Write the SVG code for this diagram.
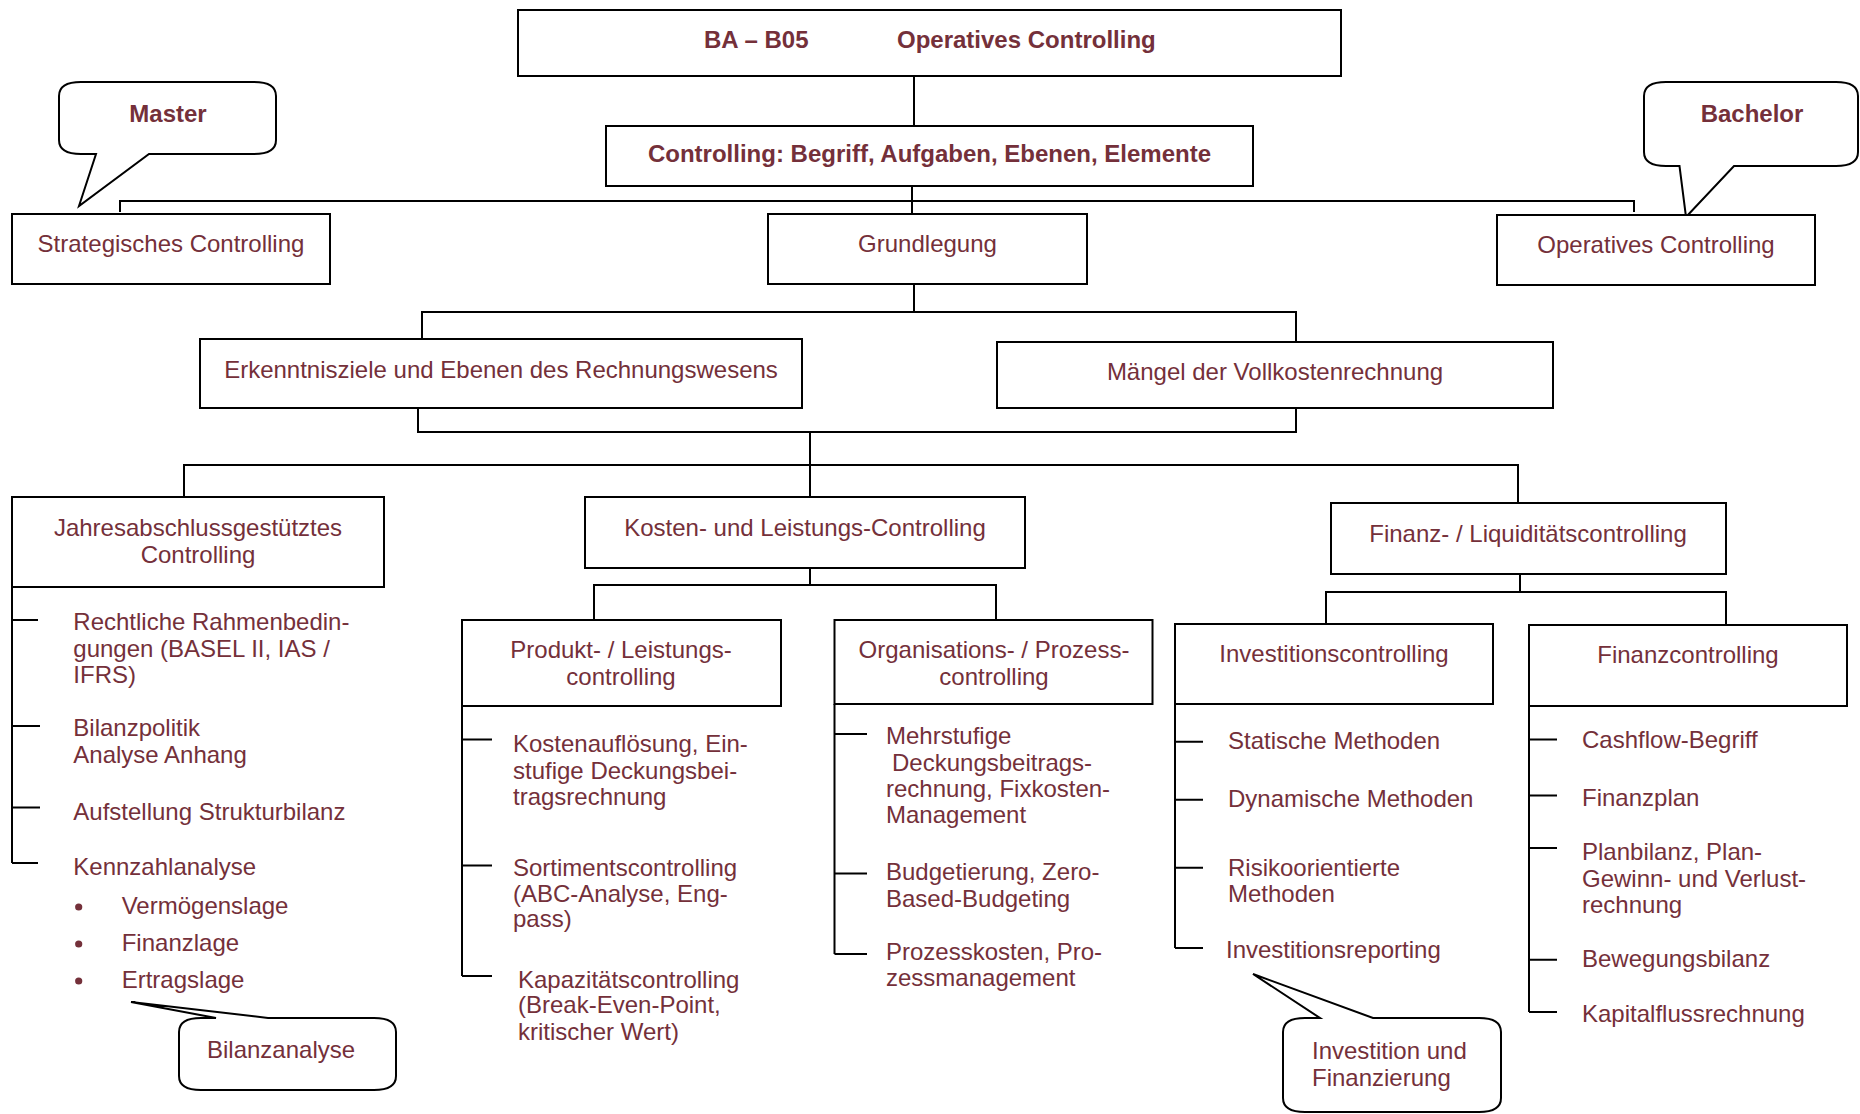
<svg xmlns="http://www.w3.org/2000/svg" width="1860" height="1114" viewBox="0 0 1860 1114">
<style>
.bg{fill:#fff}
.box{fill:#fff;stroke:#000;stroke-width:2}
.ln{fill:none;stroke:#000;stroke-width:2}
.co{fill:#fff;stroke:#000;stroke-width:2;stroke-linejoin:miter}
.t{font-family:"Liberation Sans",Arial,sans-serif;font-size:24px;fill:#74303A}
.b{font-weight:bold}
.c{text-anchor:middle}
.dot{fill:#74303A}
</style>
<rect class="bg" x="0" y="0" width="1860" height="1114"/>
<g id="connectors">
<path class="ln" d="M914,76 V126"/>
<path class="ln" d="M912,186 V214"/>
<path class="ln" d="M120,212 V201 H1634 V212"/>
<path class="ln" d="M914,284 V312"/>
<path class="ln" d="M422,339 V312 H1296 V342"/>
<path class="ln" d="M418,408 V432 H1296 V408"/>
<path class="ln" d="M810,432 V497"/>
<path class="ln" d="M184,497 V465 H1518 V503"/>
<path class="ln" d="M810,568 V585"/>
<path class="ln" d="M594,620 V585 H996 V620"/>
<path class="ln" d="M1520,574 V592"/>
<path class="ln" d="M1326,624 V592 H1726 V625"/>
<path class="ln" d="M12,587 V863 M12,620 H38 M12,726 H40 M12,807.5 H40 M12,863 H38"/>
<path class="ln" d="M462,706 V976 M462,739.4 H492 M462,865.4 H492 M462,976 H492"/>
<path class="ln" d="M834.5,704 V954 M834.5,734 H867 M834.5,873.6 H867 M834.5,954 H867"/>
<path class="ln" d="M1175,704 V948 M1175,741.8 H1203 M1175,799.7 H1203 M1175,867.8 H1203 M1175,948 H1203"/>
<path class="ln" d="M1529,706 V1012 M1529,739.4 H1557 M1529,795.6 H1557 M1529,848 H1557 M1529,959.8 H1557 M1529,1012 H1557"/>
</g>
<g id="title">
<rect class="box" x="518" y="10" width="823" height="66"/>
<text class="t b" y="48"><tspan x="704">BA – B05</tspan><tspan x="897">Operatives Controlling</tspan></text>
</g>
<g id="controlling">
<rect class="box" x="606" y="126" width="647" height="60"/>
<text class="t b c" x="929.5" y="162">Controlling: Begriff, Aufgaben, Ebenen, Elemente</text>
</g>
<g id="master">
<path class="co" d="M81,82 H254 Q276,82 276,96 V140 Q276,154 254,154 H149 L79,206 L96,154 H81 Q59,154 59,140 V96 Q59,82 81,82 Z"/>
<text class="t b c" x="168" y="122">Master</text>
</g>
<g id="bachelor">
<path class="co" d="M1666,82 H1836 Q1858,82 1858,96 V152 Q1858,166 1836,166 H1734 L1686,217 L1679.5,166 H1666 Q1644,166 1644,152 V96 Q1644,82 1666,82 Z"/>
<text class="t b c" x="1752" y="122">Bachelor</text>
</g>
<g id="strategisch">
<rect class="box" x="12" y="214" width="318" height="70"/>
<text class="t c" x="171" y="252">Strategisches Controlling</text>
</g>
<g id="grundlegung">
<rect class="box" x="768" y="214" width="319" height="70"/>
<text class="t c" x="927.5" y="252">Grundlegung</text>
</g>
<g id="operativ">
<rect class="box" x="1497" y="215" width="318" height="70"/>
<text class="t c" x="1656" y="253">Operatives Controlling</text>
</g>
<g id="erkenntnis">
<rect class="box" x="200" y="339" width="602" height="69"/>
<text class="t c" x="501" y="378">Erkenntnisziele und Ebenen des Rechnungswesens</text>
</g>
<g id="maengel">
<rect class="box" x="997" y="342" width="556" height="66"/>
<text class="t c" x="1275" y="380">Mängel der Vollkostenrechnung</text>
</g>
<g id="jahres">
<rect class="box" x="12" y="497" width="372" height="90"/>
<text class="t c" x="198" y="536">Jahresabschlussgestütztes</text>
<text class="t c" x="198" y="563">Controlling</text>
</g>
<g id="jahres-list">
<text class="t" x="73.3" y="630">Rechtliche Rahmenbedin-</text>
<text class="t" x="73.3" y="656.6">gungen (BASEL II, IAS /</text>
<text class="t" x="73.3" y="683.2">IFRS)</text>
<text class="t" x="73.3" y="736">Bilanzpolitik</text>
<text class="t" x="73.3" y="763">Analyse Anhang</text>
<text class="t" x="73.3" y="820">Aufstellung Strukturbilanz</text>
<text class="t" x="73.3" y="875">Kennzahlanalyse</text>
<circle class="dot" cx="78.7" cy="907" r="3.6"/>
<circle class="dot" cx="78.7" cy="944" r="3.6"/>
<circle class="dot" cx="78.7" cy="981" r="3.6"/>
<text class="t" x="121.7" y="914">Vermögenslage</text>
<text class="t" x="121.7" y="951">Finanzlage</text>
<text class="t" x="121.7" y="988">Ertragslage</text>
</g>
<g id="bilanzanalyse">
<path class="co" d="M201,1018 H216 L131,1002 L268,1018 H374 Q396,1018 396,1032 V1076 Q396,1090 374,1090 H201 Q179,1090 179,1076 V1032 Q179,1018 201,1018 Z"/>
<text class="t" x="207" y="1058">Bilanzanalyse</text>
</g>
<g id="kosten">
<rect class="box" x="585" y="497" width="440" height="71"/>
<text class="t c" x="805" y="536">Kosten- und Leistungs-Controlling</text>
</g>
<g id="produkt">
<rect class="box" x="462" y="620" width="319" height="86"/>
<text class="t c" x="621" y="658">Produkt- / Leistungs-</text>
<text class="t c" x="621" y="685">controlling</text>
</g>
<g id="produkt-list">
<text class="t" x="513" y="752">Kostenauflösung, Ein-</text>
<text class="t" x="513" y="778.6">stufige Deckungsbei-</text>
<text class="t" x="513" y="804.8">tragsrechnung</text>
<text class="t" x="513" y="875.6">Sortimentscontrolling</text>
<text class="t" x="513" y="901.9">(ABC-Analyse, Eng-</text>
<text class="t" x="513" y="927.4">pass)</text>
<text class="t" x="518" y="987.7">Kapazitätscontrolling</text>
<text class="t" x="518" y="1013">(Break-Even-Point,</text>
<text class="t" x="518" y="1039.8">kritischer Wert)</text>
</g>
<g id="organisation">
<rect class="box" x="834.5" y="620" width="318" height="84"/>
<text class="t c" x="994" y="658">Organisations- / Prozess-</text>
<text class="t c" x="994" y="685">controlling</text>
</g>
<g id="organisation-list">
<text class="t" x="886" y="744">Mehrstufige</text>
<text class="t" x="892" y="770.7">Deckungsbeitrags-</text>
<text class="t" x="886" y="797.3">rechnung, Fixkosten-</text>
<text class="t" x="886" y="822.8">Management</text>
<text class="t" x="886" y="879.7">Budgetierung, Zero-</text>
<text class="t" x="886" y="907">Based-Budgeting</text>
<text class="t" x="886" y="959.8">Prozesskosten, Pro-</text>
<text class="t" x="886" y="986.3">zessmanagement</text>
</g>
<g id="finanz-liquiditaet">
<rect class="box" x="1331" y="503" width="395" height="71"/>
<text class="t c" x="1528" y="542">Finanz- / Liquiditätscontrolling</text>
</g>
<g id="investition">
<rect class="box" x="1175" y="624" width="318" height="80"/>
<text class="t c" x="1334" y="662">Investitionscontrolling</text>
</g>
<g id="investition-list">
<text class="t" x="1228" y="749.3">Statische Methoden</text>
<text class="t" x="1228" y="807.2">Dynamische Methoden</text>
<text class="t" x="1228" y="875.6">Risikoorientierte</text>
<text class="t" x="1228" y="901.9">Methoden</text>
<text class="t" x="1226" y="958">Investitionsreporting</text>
</g>
<g id="investition-finanzierung">
<path class="co" d="M1305,1018 H1320 L1253,974 L1373,1018 H1479 Q1501,1018 1501,1032 V1098 Q1501,1112 1479,1112 H1305 Q1283,1112 1283,1098 V1032 Q1283,1018 1305,1018 Z"/>
<text class="t" x="1312" y="1059">Investition und</text>
<text class="t" x="1312" y="1086">Finanzierung</text>
</g>
<g id="finanzcontrolling">
<rect class="box" x="1529" y="625" width="318" height="81"/>
<text class="t c" x="1688" y="663">Finanzcontrolling</text>
</g>
<g id="finanz-list">
<text class="t" x="1582" y="747.6">Cashflow-Begriff</text>
<text class="t" x="1582" y="805.5">Finanzplan</text>
<text class="t" x="1582" y="860.3">Planbilanz, Plan-</text>
<text class="t" x="1582" y="886.5">Gewinn- und Verlust-</text>
<text class="t" x="1582" y="913">rechnung</text>
<text class="t" x="1582" y="967.3">Bewegungsbilanz</text>
<text class="t" x="1582" y="1021.8">Kapitalflussrechnung</text>
</g>
</svg>
